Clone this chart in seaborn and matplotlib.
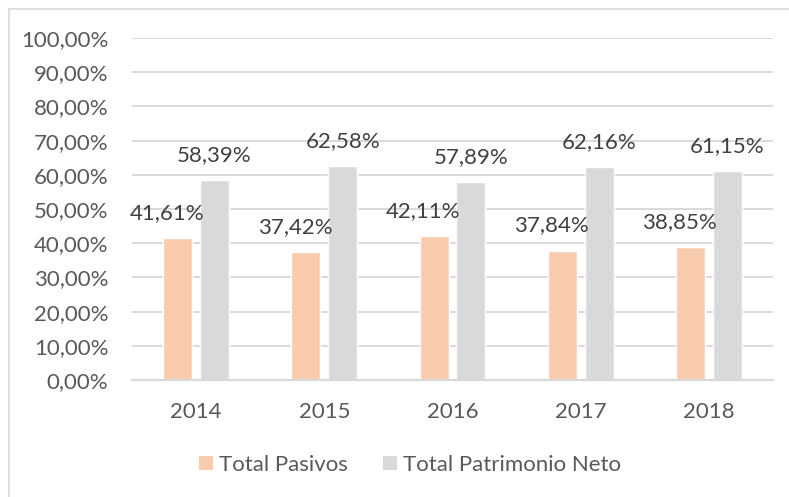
import pandas as pd
import matplotlib.pyplot as plt
import seaborn as sns
from matplotlib.patches import Patch
from matplotlib.lines import Line2D

# Values (percent)
years = ['2014', '2015', '2016', '2017', '2018']
total_pasivos = [41.61, 37.42, 42.11, 37.84, 38.85]
total_patrimonio = [58.39, 62.58, 57.89, 62.16, 61.15]
series_names = ['Total Pasivos', 'Total Patrimonio Neto']
colors = ['#F8CBAD', '#D9D9D9']
y_ticks = [0, 10, 20, 30, 40, 50, 60, 70, 80, 90, 100]

data = pd.DataFrame({
    'year': years * 2,
    'value': total_pasivos + total_patrimonio,
    'serie': [series_names[0]] * len(years) + [series_names[1]] * len(years),
})

sns.set_theme(style='white')
plt.rcParams['font.family'] = ['Lato', 'DejaVu Sans']
text_color = '#595959'
fs = 16

W, H = 789, 497
fig = plt.figure(figsize=(W / 100, H / 100), dpi=100)
ax = fig.add_axes([132 / W, 1 - 380 / H, (773 - 132) / W, (380 - 37.5) / H])

sns.barplot(data=data, x='year', y='value', hue='serie', palette=colors,
            width=0.576, gap=0.216, ax=ax, legend=False, saturation=1)

ax.set_ylim(0, 100.15)
ax.set_yticks(y_ticks)
ax.set_yticklabels([f'{v},00%' for v in y_ticks], fontsize=fs, color=text_color)
ax.tick_params(axis='y', length=0, pad=17)
ax.tick_params(axis='x', length=0, pad=16, labelsize=fs, labelcolor=text_color)
ax.set_xlabel('')
ax.set_ylabel('')
ax.grid(axis='y', color='#D9D9D9', linewidth=1.4)
ax.set_axisbelow(True)
for side in ['top', 'right', 'left']:
    ax.spines[side].set_visible(False)
ax.spines['bottom'].set_color('#D9D9D9')
ax.spines['bottom'].set_linewidth(1.6)

# data labels, Excel style (the orange ones were nudged left)
offsets = [-11, 0]
for container, dx in zip(ax.containers, offsets):
    for bar in container:
        h = bar.get_height()
        ax.annotate(f'{h:.2f}%'.replace('.', ','),
                    (bar.get_x() + bar.get_width() / 2, h),
                    xytext=(dx, 25), textcoords='offset pixels',
                    ha='center', va='center', fontsize=fs, color='#404040')

handles = [Patch(facecolor=c, edgecolor='none') for c in colors]
fig.legend(handles, series_names, loc='center', bbox_to_anchor=(410 / W, 1 - 465 / H),
           ncol=2, frameon=False, fontsize=fs, handlelength=0.63, handleheight=0.63,
           handletextpad=0.25, columnspacing=1.6, labelcolor=text_color)

# outer chart border (clipped at right and bottom in the reference)
fig.add_artist(Line2D([8.5 / W, 8.5 / W], [0, 1 - 8.5 / H], color='#D9D9D9', lw=1.2))
fig.add_artist(Line2D([8.5 / W, 1], [1 - 8.5 / H, 1 - 8.5 / H], color='#D9D9D9', lw=1.2))

fig.savefig('out.png', dpi=100)
